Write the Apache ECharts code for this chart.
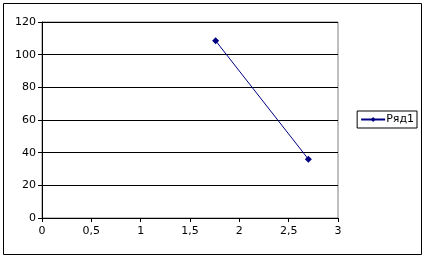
<!DOCTYPE html>
<html><head><meta charset="utf-8">
<script src="https://cdn.jsdelivr.net/npm/echarts@6/dist/echarts.min.js"></script>
<style>html,body{margin:0;padding:0;background:#fff}#c{width:425px;height:258px}</style>
</head><body><div id="c"></div>
<script>
var seriesName = 'Ряд1';
var xValues = [1.76, 2.7];
var yValues = [108.5, 36];
var xTicks = [0, 0.5, 1, 1.5, 2, 2.5, 3];
var yTicks = [0, 20, 40, 60, 80, 100, 120];

var chart = echarts.init(document.getElementById('c'), null, {renderer: 'canvas'});
var data = xValues.map(function (x, i) { return [x, yValues[i]]; });
var font = 'DejaVu Sans';
chart.setOption({
  animation: false,
  backgroundColor: '#fff',
  graphic: [{
    type: 'rect', shape: {x: 3.5, y: 3.5, width: 418, height: 251},
    style: {fill: 'none', stroke: '#000', lineWidth: 1}, silent: true, z: -1
  }],
  grid: {left: 42, top: 22, width: 296, height: 196, show: true, borderColor: '#808080', borderWidth: 1, backgroundColor: '#fff'},
  xAxis: {
    type: 'value', min: xTicks[0], max: xTicks[xTicks.length - 1], interval: 0.5,
    axisLine: {onZero: false, lineStyle: {color: '#000', width: 1}},
    axisTick: {show: true, length: 4, lineStyle: {color: '#000'}},
    splitLine: {show: false},
    axisLabel: {color: '#000', fontFamily: font, fontSize: 11, margin: 8,
      formatter: function (v) { return String(v).replace('.', ','); }}
  },
  yAxis: {
    type: 'value', min: yTicks[0], max: yTicks[yTicks.length - 1], interval: 20,
    axisLine: {show: true, lineStyle: {color: '#000', width: 1}},
    axisTick: {show: true, length: 4, lineStyle: {color: '#000'}},
    splitLine: {show: true, lineStyle: {color: '#000', width: 1}},
    axisLabel: {color: '#000', fontFamily: font, fontSize: 11, margin: 6}
  },
  legend: {
    show: true, right: 8, top: 111, orient: 'vertical',
    borderColor: '#000', borderWidth: 1, padding: [3, 3, 3, 3],
    itemWidth: 24, itemHeight: 6, itemGap: 0, itemStyle: {borderWidth: 0},
    textStyle: {color: '#000', fontFamily: font, fontSize: 11, padding: [0, 0, 0, -4]},
    data: [{name: seriesName}]
  },
  series: [{
    name: seriesName, type: 'line', data: data,
    symbol: 'diamond', symbolSize: 7, showSymbol: true,
    itemStyle: {color: '#000080'},
    lineStyle: {color: '#000080', width: 1}
  }]
});
</script></body></html>
